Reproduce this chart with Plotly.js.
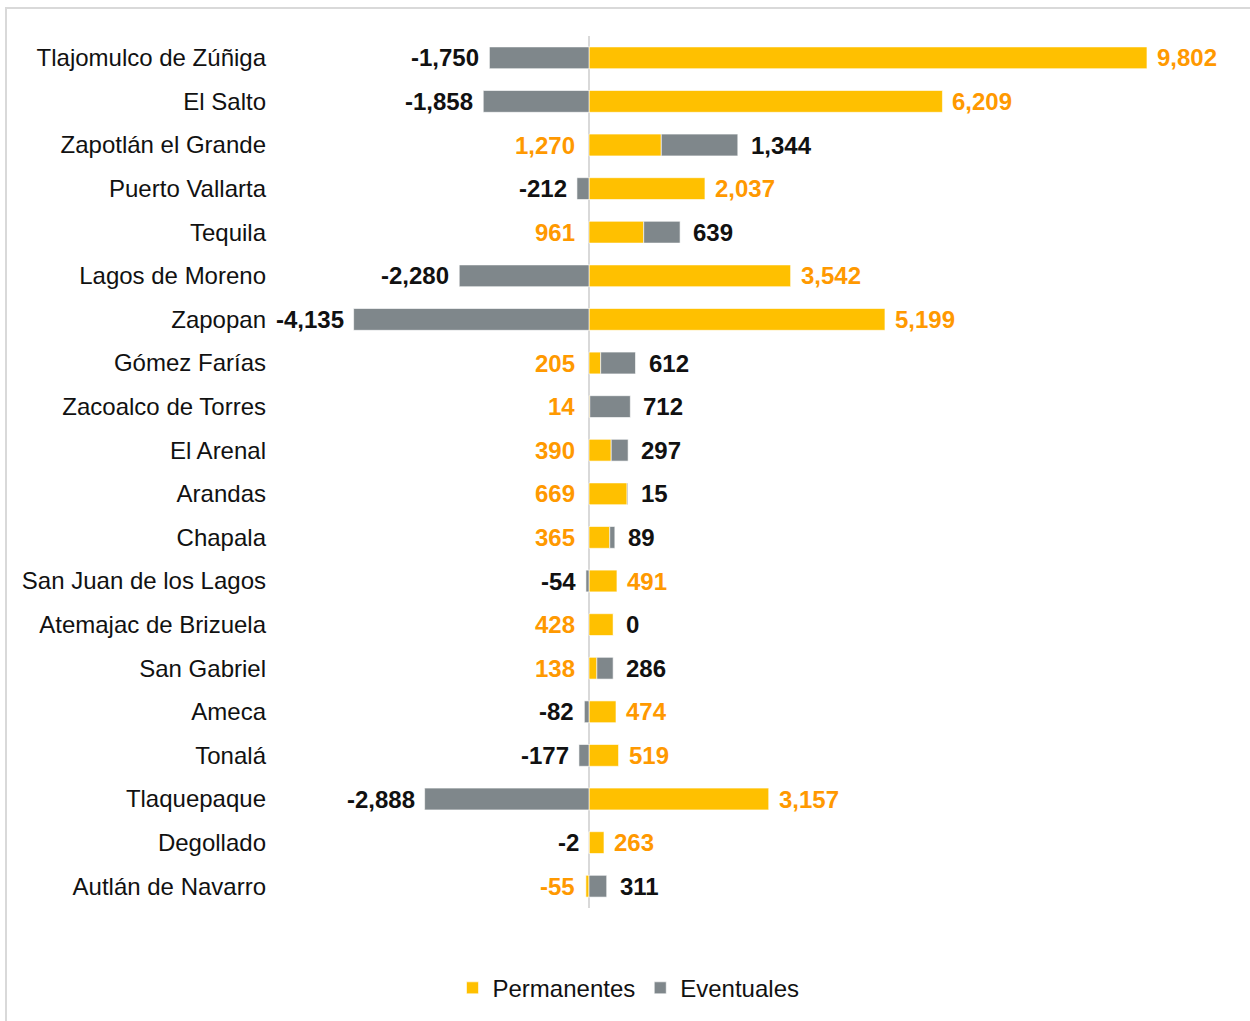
<!DOCTYPE html>
<html>
<head>
<meta charset="utf-8">
<script src="https://cdn.plot.ly/plotly-3.0.1.min.js"></script>
<style>
  html, body { margin: 0; padding: 0; background: #ffffff; }
  #wrap { position: relative; width: 1250px; height: 1021px; overflow: hidden; }
  #chart { position: absolute; left: 0; top: 0; width: 1250px; height: 1021px; }
  #frame { position: absolute; left: 5px; top: 7px; width: 1260px; height: 1030px;
           border: 2px solid #d9d9d9; box-sizing: border-box; pointer-events: none; }
</style>
</head>
<body>
<div id="wrap">
  <div id="chart"></div>
  <div id="frame"></div>
</div>
<script>
const municipios = ['Tlajomulco de Zúñiga','El Salto','Zapotlán el Grande','Puerto Vallarta','Tequila',
  'Lagos de Moreno','Zapopan','Gómez Farías','Zacoalco de Torres','El Arenal','Arandas','Chapala',
  'San Juan de los Lagos','Atemajac de Brizuela','San Gabriel','Ameca','Tonalá','Tlaquepaque',
  'Degollado','Autlán de Navarro'];
const permanentes = [9802, 6209, 1270, 2037, 961, 3542, 5199, 205, 14, 390, 669, 365, 491, 428, 138, 474, 519, 3157, 263, -55];
const eventuales = [-1750, -1858, 1344, -212, 639, -2280, -4135, 612, 712, 297, 15, 89, -54, 0, 286, -82, -177, -2888, -2, 311];

const YELLOW = '#FFC000';
const GRAY = '#7F878B';
const ORANGE = '#FF9900';
const fmt = v => v.toLocaleString('en-US');

const traces = [
  { type: 'bar', orientation: 'h', name: 'Permanentes', y: municipios, x: permanentes,
    marker: { color: YELLOW, line: { color: 'rgba(255,255,255,0.6)', width: 1 } }, hoverinfo: 'x+y' },
  { type: 'bar', orientation: 'h', name: 'Eventuales', y: municipios, x: eventuales,
    marker: { color: GRAY, line: { color: 'rgba(255,255,255,0.6)', width: 1 } }, hoverinfo: 'x+y' }
];

const labelFont = { family: 'Liberation Sans, Arial, sans-serif', size: 24 };
const annotations = [];
municipios.forEach((m, i) => {
  const p = permanentes[i], e = eventuales[i];
  // Permanentes label
  if (e < 0 && p > 0) {
    annotations.push({ x: p, y: m, xref: 'x', yref: 'y', text: '<b>' + fmt(p) + '</b>', showarrow: false,
      xanchor: 'left', xshift: 8, font: Object.assign({ color: ORANGE }, labelFont) });
  } else {
    annotations.push({ x: 0, y: m, xref: 'x', yref: 'y', text: '<b>' + fmt(p) + '</b>', showarrow: false,
      xanchor: 'right', xshift: -12, font: Object.assign({ color: ORANGE }, labelFont) });
  }
  // Eventuales label
  if (e < 0) {
    const start = (p < 0 ? p : 0) + e;
    annotations.push({ x: start, y: m, xref: 'x', yref: 'y', text: '<b>' + fmt(e) + '</b>', showarrow: false,
      xanchor: 'right', xshift: -8, font: Object.assign({ color: '#111111' }, labelFont) });
  } else {
    const end = (p > 0 ? p : 0) + e;
    annotations.push({ x: end, y: m, xref: 'x', yref: 'y', text: '<b>' + fmt(e) + '</b>', showarrow: false,
      xanchor: 'left', xshift: 11, font: Object.assign({ color: '#111111' }, labelFont) });
  }
});

const layout = {
  width: 1250, height: 1021,
  margin: { l: 277, r: 10, t: 36, b: 111 },
  paper_bgcolor: 'rgba(0,0,0,0)', plot_bgcolor: 'rgba(0,0,0,0)',
  barmode: 'relative', bargap: 0.5,
  font: { family: 'Liberation Sans, Arial, sans-serif', size: 24, color: '#111111' },
  xaxis: { range: [-5481, 11436], showgrid: false, showticklabels: false, zeroline: true,
           zerolinecolor: '#d9d9d9', zerolinewidth: 2, fixedrange: true },
  yaxis: { autorange: 'reversed', type: 'category', showgrid: false, zeroline: false, ticks: '',
           ticklabelstandoff: 10, tickfont: { size: 24, color: '#111111' }, fixedrange: true },
  showlegend: true,
  legend: { orientation: 'h', x: 0.365, xanchor: 'center', y: -0.092, yanchor: 'middle',
            font: { size: 24, color: '#111111' }, itemwidth: 30, traceorder: 'normal' },
  annotations: annotations
};

Plotly.newPlot('chart', traces, layout, { displayModeBar: false, staticPlot: true });
</script>
</body>
</html>
